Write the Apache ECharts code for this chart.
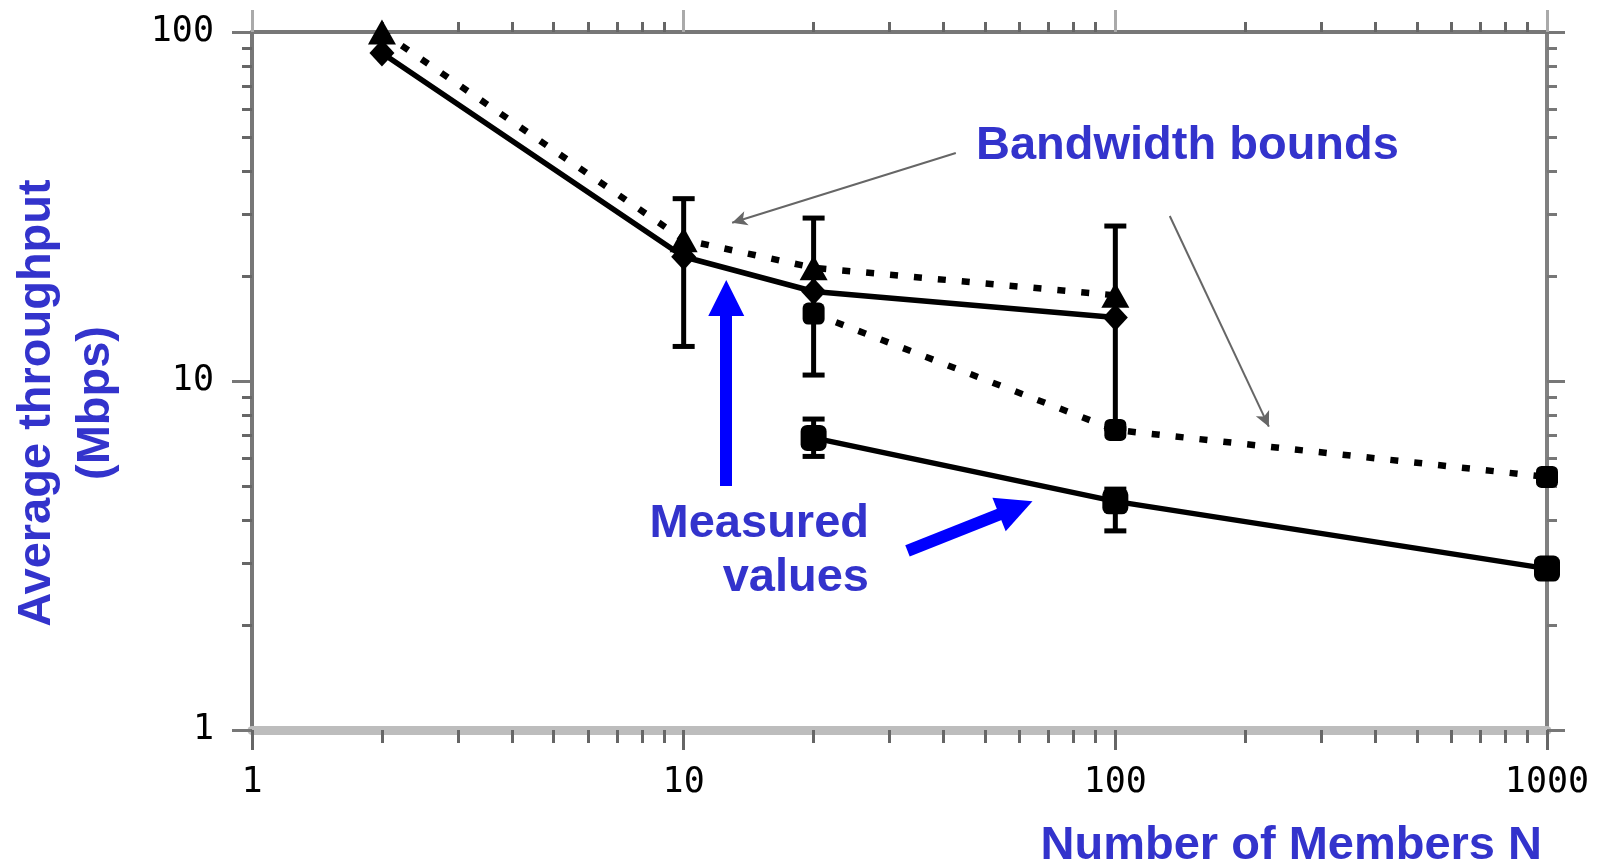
<!DOCTYPE html>
<html>
<head>
<meta charset="utf-8">
<script src="https://cdn.jsdelivr.net/npm/echarts@6/dist/echarts.min.js"></script>
<style>
html,body{margin:0;padding:0;background:#fff;}
#chart{width:1598px;height:866px;}
</style>
</head>
<body>
<div id="chart"></div>
<script>
// ---- data ----
const xTicks = [1, 10, 100, 1000];
const yTicks = [1, 10, 100];
const xMinorTicks = [2,3,4,5,6,7,8,9,20,30,40,50,60,70,80,90,200,300,400,500,600,700,800,900];
const yMinorTicks = [2,3,4,5,6,7,8,9,20,30,40,50,60,70,80,90];

// upper bandwidth bound (dashed, triangles)
const upperBoundX = [2, 10, 20, 100];
const upperBoundY = [100, 25.4, 21.1, 17.6];
// upper measured values (solid, diamonds)
const upperMeasX = [2, 10, 20, 100];
const upperMeasY = [87.1, 22.7, 18.05, 15.2];
const upperMeasLow = [null, 12.56, 10.4, 7.3];
const upperMeasHigh = [null, 33.3, 29.3, 27.8];
// lower bandwidth bound (dashed, squares)
const lowerBoundX = [20, 100, 1000];
const lowerBoundY = [15.6, 7.24, 5.31];
// lower measured values (solid, squares)
const lowerMeasX = [20, 100, 1000];
const lowerMeasY = [6.87, 4.52, 2.90];
const lowerMeasLow = [6.08, 3.72, null];
const lowerMeasHigh = [7.78, 4.90, null];

// annotation arrows in data coordinates [x, y]
const grayArrows = [
  [[42.7, 45.0], [12.95, 28.4]],
  [[133.7, 29.7], [226.8, 7.40]]
];
const blueArrows = [
  [[12.55, 5.0], [12.55, 17.3]],
  [[33.0, 3.26], [58.8, 4.33]]
];

// ---- helpers ----
const zip = (xs, ys) => xs.map((x, i) => [x, ys[i]]);
const errData = (xs, lo, hi) => xs.map((x, i) => [x, lo[i], hi[i]]).filter(d => d[1] != null);
const expOf = arr => arr.map(v => Math.log10(v));

const TITLE_COLOR = '#3333cc';
const titleFont = { fontFamily: 'Liberation Sans', fontWeight: 'bold', fontSize: 47, fill: TITLE_COLOR };
const tickFont = { fontFamily: 'DejaVu Sans Mono', fontSize: 35, color: '#000' };

const chart = echarts.init(document.getElementById('chart'), null, { renderer: 'canvas' });

function errorBarItem(params, api) {
  const x = api.value(0), lo = api.value(1), hi = api.value(2);
  const pHi = api.coord([x, hi]);
  const pLo = api.coord([x, lo]);
  const w = 11;
  const st = { stroke: '#000', lineWidth: 5 };
  return {
    type: 'group',
    children: [
      { type: 'line', shape: { x1: pHi[0], y1: pHi[1], x2: pLo[0], y2: pLo[1] }, style: st },
      { type: 'line', shape: { x1: pHi[0] - w, y1: pHi[1], x2: pHi[0] + w, y2: pHi[1] }, style: st },
      { type: 'line', shape: { x1: pLo[0] - w, y1: pLo[1], x2: pLo[0] + w, y2: pLo[1] }, style: st }
    ]
  };
}

const arrowPairs = arr => arr.map(a => [{ coord: a[0] }, { coord: a[1] }]);

const option = {
  animation: false,
  backgroundColor: '#fff',
  grid: { left: 252, right: 51, top: 32, bottom: 136, containLabel: false },
  xAxis: [
    {
      type: 'log', logBase: 10, min: xTicks[0], max: xTicks[xTicks.length - 1], position: 'bottom',
      axisLine: { show: true, onZero: false, lineStyle: { color: '#bdbdbd', width: 9 } },
      axisTick: { show: true, length: 20, lineStyle: { color: '#666', width: 3 } },
      axisLabel: Object.assign({ margin: 35, formatter: v => String(v) }, tickFont),
      splitLine: { show: false }
    },
    {
      type: 'value', min: 0, max: 3, position: 'bottom',
      axisLine: { show: false, onZero: false },
      axisTick: { show: true, customValues: expOf(xMinorTicks), length: 13, lineStyle: { color: '#666', width: 3 } },
      axisLabel: { show: false }, splitLine: { show: false }
    },
    {
      type: 'log', logBase: 10, min: xTicks[0], max: xTicks[xTicks.length - 1], position: 'top',
      axisLine: { show: true, onZero: false, lineStyle: { color: '#777', width: 4 } },
      axisTick: { show: true, length: 22, lineStyle: { color: '#aaa', width: 3 } },
      axisLabel: { show: false }, splitLine: { show: false }
    },
    {
      type: 'value', min: 0, max: 3, position: 'top',
      axisLine: { show: false, onZero: false },
      axisTick: { show: true, customValues: expOf(xMinorTicks), length: 10, lineStyle: { color: '#666', width: 3 } },
      axisLabel: { show: false }, splitLine: { show: false }
    }
  ],
  yAxis: [
    {
      type: 'log', logBase: 10, min: yTicks[0], max: yTicks[yTicks.length - 1], position: 'left',
      axisLine: { show: true, onZero: false, lineStyle: { color: '#777', width: 4 } },
      axisTick: { show: true, length: 20, lineStyle: { color: '#777', width: 3 } },
      axisLabel: Object.assign({ margin: 38, formatter: v => String(v) }, tickFont),
      splitLine: { show: false }
    },
    {
      type: 'value', min: 0, max: 2, position: 'left',
      axisLine: { show: false, onZero: false },
      axisTick: { show: true, customValues: expOf(yMinorTicks), length: 10, lineStyle: { color: '#666', width: 3 } },
      axisLabel: { show: false }, splitLine: { show: false }
    },
    {
      type: 'log', logBase: 10, min: yTicks[0], max: yTicks[yTicks.length - 1], position: 'right',
      axisLine: { show: true, onZero: false, lineStyle: { color: '#808080', width: 4 } },
      axisTick: { show: true, length: 18, lineStyle: { color: '#777', width: 3 } },
      axisLabel: { show: false }, splitLine: { show: false }
    },
    {
      type: 'value', min: 0, max: 2, position: 'right',
      axisLine: { show: false, onZero: false },
      axisTick: { show: true, customValues: expOf(yMinorTicks), length: 10, lineStyle: { color: '#777', width: 3 } },
      axisLabel: { show: false }, splitLine: { show: false }
    }
  ],
  series: [
    {
      type: 'custom', name: 'errUpper', xAxisIndex: 0, yAxisIndex: 0, z: 2,
      renderItem: errorBarItem, encode: { x: 0, y: [1, 2] },
      data: errData(upperMeasX, upperMeasLow, upperMeasHigh), silent: true
    },
    {
      type: 'custom', name: 'errLower', xAxisIndex: 0, yAxisIndex: 0, z: 2,
      renderItem: errorBarItem, encode: { x: 0, y: [1, 2] },
      data: errData(lowerMeasX, lowerMeasLow, lowerMeasHigh), silent: true
    },
    {
      type: 'line', name: 'Measured (upper)', xAxisIndex: 0, yAxisIndex: 0, z: 3, clip: false,
      data: zip(upperMeasX, upperMeasY),
      symbol: 'diamond', symbolSize: [25, 27], showAllSymbol: true,
      lineStyle: { color: '#000', width: 5.5 }, itemStyle: { color: '#000' },
      markLine: {
        silent: true, animation: false, label: { show: false },
        symbol: ['none', 'triangle'], symbolSize: [36, 36],
        lineStyle: { color: '#0000ff', width: 12, type: 'solid' },
        itemStyle: { color: '#0000ff' },
        emphasis: { disabled: true },
        data: arrowPairs(blueArrows)
      }
    },
    {
      type: 'line', name: 'Bound (upper)', xAxisIndex: 0, yAxisIndex: 0, z: 4, clip: false,
      data: zip(upperBoundX, upperBoundY),
      symbol: 'triangle', symbolSize: [28, 25], showAllSymbol: true,
      lineStyle: { color: '#000', width: 6.5, type: [8, 16] }, itemStyle: { color: '#000' },
      markLine: {
        silent: true, animation: false, label: { show: false },
        symbol: ['none', 'arrow'], symbolSize: [11, 15],
        lineStyle: { color: '#666', width: 2, type: 'solid' },
        itemStyle: { color: '#666' },
        emphasis: { disabled: true },
        data: arrowPairs(grayArrows)
      }
    },
    {
      type: 'line', name: 'Bound (lower)', xAxisIndex: 0, yAxisIndex: 0, z: 4, clip: false,
      data: zip(lowerBoundX, lowerBoundY),
      symbol: 'roundRect', symbolSize: 22, showAllSymbol: true,
      lineStyle: { color: '#000', width: 6.5, type: [8, 16] }, itemStyle: { color: '#000' }
    },
    {
      type: 'line', name: 'Measured (lower)', xAxisIndex: 0, yAxisIndex: 0, z: 3, clip: false,
      data: zip(lowerMeasX, lowerMeasY),
      symbol: 'roundRect', symbolSize: 26, showAllSymbol: true,
      lineStyle: { color: '#000', width: 5.5 }, itemStyle: { color: '#000' }
    }
  ],
  graphic: [
    { type: 'text', x: 976, y: 146, silent: true,
      style: Object.assign({ text: 'Bandwidth bounds', textAlign: 'left', verticalAlign: 'middle' }, titleFont) },
    { type: 'text', x: 869, y: 551, silent: true,
      style: Object.assign({ text: 'Measured\nvalues', textAlign: 'right', verticalAlign: 'middle', lineHeight: 54 }, titleFont) },
    { type: 'text', x: 67, y: 403, rotation: Math.PI / 2, silent: true,
      style: Object.assign({ text: 'Average throughput\n(Mbps)', textAlign: 'center', verticalAlign: 'middle', lineHeight: 59 }, titleFont) },
    { type: 'text', x: 1542, y: 846, silent: true,
      style: Object.assign({ text: 'Number of Members N', textAlign: 'right', verticalAlign: 'middle' }, titleFont) }
  ]
};

chart.setOption(option);
</script>
</body>
</html>
